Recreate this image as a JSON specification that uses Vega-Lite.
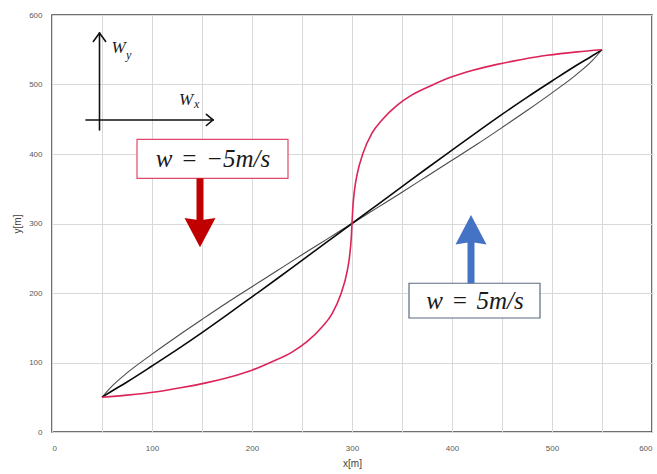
{
  "$schema": "https://vega.github.io/schema/vega-lite/v6.json",
  "width": 600,
  "height": 417,
  "autosize": {"type": "none"},
  "padding": {"left": 52, "top": 15, "right": 5, "bottom": 42},
  "background": "white",
  "config": {
    "view": {"stroke": "#404040", "strokeWidth": 1.5},
    "axis": {
      "grid": true,
      "gridColor": "#d9d9d9",
      "gridWidth": 1,
      "ticks": false,
      "domain": false,
      "labelFont": "Liberation Sans",
      "labelFontSize": 8,
      "labelColor": "#595959",
      "titleFont": "Liberation Sans",
      "titleFontWeight": "normal",
      "titleFontSize": 10,
      "titleColor": "#404040"
    }
  },
  "datasets": {
    "red": [
      {"x": 50, "y": 50}, {"x": 75, "y": 53}, {"x": 105, "y": 58}, {"x": 130, "y": 64},
      {"x": 155, "y": 71}, {"x": 180, "y": 80}, {"x": 200, "y": 89}, {"x": 220, "y": 101},
      {"x": 240, "y": 115}, {"x": 255, "y": 130}, {"x": 270, "y": 151}, {"x": 280, "y": 170},
      {"x": 289, "y": 199}, {"x": 295, "y": 230}, {"x": 297.5, "y": 252}, {"x": 299.3, "y": 280},
      {"x": 300, "y": 300}, {"x": 300.7, "y": 320}, {"x": 302.5, "y": 348}, {"x": 305, "y": 370},
      {"x": 311, "y": 401}, {"x": 320, "y": 430}, {"x": 330, "y": 449}, {"x": 345, "y": 470},
      {"x": 360, "y": 485}, {"x": 380, "y": 499}, {"x": 400, "y": 511}, {"x": 420, "y": 520},
      {"x": 445, "y": 529}, {"x": 470, "y": 536}, {"x": 495, "y": 542}, {"x": 525, "y": 547},
      {"x": 550, "y": 550}
    ],
    "thin": [
      {"x": 50, "y": 50}, {"x": 60, "y": 66}, {"x": 75, "y": 85}, {"x": 100, "y": 112},
      {"x": 125, "y": 137.5}, {"x": 150, "y": 162}, {"x": 175, "y": 186}, {"x": 200, "y": 209},
      {"x": 225, "y": 232}, {"x": 250, "y": 255}, {"x": 275, "y": 277.5}, {"x": 300, "y": 300},
      {"x": 325, "y": 322.5}, {"x": 350, "y": 345}, {"x": 375, "y": 368}, {"x": 400, "y": 391},
      {"x": 425, "y": 414}, {"x": 450, "y": 438}, {"x": 475, "y": 462.5}, {"x": 500, "y": 488},
      {"x": 525, "y": 515}, {"x": 540, "y": 534}, {"x": 550, "y": 550}
    ],
    "thick": [
      {"x": 50, "y": 50}, {"x": 60, "y": 59}, {"x": 75, "y": 72}, {"x": 100, "y": 95},
      {"x": 125, "y": 118.5}, {"x": 150, "y": 143}, {"x": 175, "y": 168.5}, {"x": 200, "y": 194.5},
      {"x": 225, "y": 220.5}, {"x": 250, "y": 247}, {"x": 275, "y": 273.5}, {"x": 300, "y": 300},
      {"x": 325, "y": 326.5}, {"x": 350, "y": 353}, {"x": 375, "y": 379.5}, {"x": 400, "y": 405.5},
      {"x": 425, "y": 431.5}, {"x": 450, "y": 457}, {"x": 475, "y": 481.5}, {"x": 500, "y": 505},
      {"x": 525, "y": 528}, {"x": 540, "y": 541}, {"x": 550, "y": 550}
    ]
  },
  "layer": [
    {
      "data": {"name": "thin"},
      "mark": {"type": "line", "interpolate": "monotone", "color": "#4a4a4a", "strokeWidth": 1.1},
      "encoding": {
        "x": {"field": "x", "type": "quantitative",
          "scale": {"domain": [0, 600], "nice": false, "zero": false},
          "axis": {"values": [0,50,100,150,200,250,300,350,400,450,500,550,600],
                   "labelExpr": "datum.value % 100 == 0 ? datum.label : ''",
                   "title": "x[m]", "labelPadding": 12, "titlePadding": 6}},
        "y": {"field": "y", "type": "quantitative",
          "scale": {"domain": [0, 600], "nice": false, "zero": false},
          "axis": {"values": [0,50,100,150,200,250,300,350,400,450,500,550,600],
                   "labelExpr": "datum.value % 100 == 0 ? datum.label : ''",
                   "title": "y[m]", "labelPadding": 10, "titlePadding": 6}}
      }
    },
    {
      "data": {"name": "thick"},
      "mark": {"type": "line", "interpolate": "monotone", "color": "#0a0a0a", "strokeWidth": 1.6},
      "encoding": {
        "x": {"field": "x", "type": "quantitative"},
        "y": {"field": "y", "type": "quantitative"}
      }
    },
    {
      "data": {"name": "red"},
      "mark": {"type": "line", "interpolate": "monotone", "color": "#dc2458", "strokeWidth": 1.6},
      "encoding": {
        "x": {"field": "x", "type": "quantitative"},
        "y": {"field": "y", "type": "quantitative"}
      }
    },
    {
      "data": {"values": [
        {"label": "minus", "x": 85, "x2": 236, "y": 365, "y2": 421}
      ]},
      "mark": {"type": "rect", "fill": "white", "stroke": "#e04a6a", "strokeWidth": 1.2},
      "encoding": {
        "x": {"field": "x", "type": "quantitative"},
        "x2": {"field": "x2"},
        "y": {"field": "y", "type": "quantitative"},
        "y2": {"field": "y2"}
      }
    },
    {
      "data": {"values": [
        {"label": "plus", "x": 357, "x2": 488, "y": 164, "y2": 214}
      ]},
      "mark": {"type": "rect", "fill": "white", "stroke": "#5b6b80", "strokeWidth": 1.2},
      "encoding": {
        "x": {"field": "x", "type": "quantitative"},
        "x2": {"field": "x2"},
        "y": {"field": "y", "type": "quantitative"},
        "y2": {"field": "y2"}
      }
    },
    {
      "data": {"values": [
        {"label": "minus", "x": 148, "y": 365, "y2": 290}
      ]},
      "mark": {"type": "rule", "strokeWidth": 7, "color": "#c00000"},
      "encoding": {
        "x": {"field": "x", "type": "quantitative"},
        "y": {"field": "y", "type": "quantitative"},
        "y2": {"field": "y2"}
      }
    },
    {
      "data": {"values": [
        {"label": "plus", "x": 419, "y": 214, "y2": 288}
      ]},
      "mark": {"type": "rule", "strokeWidth": 7, "color": "#4472c4"},
      "encoding": {
        "x": {"field": "x", "type": "quantitative"},
        "y": {"field": "y", "type": "quantitative"},
        "y2": {"field": "y2"}
      }
    },
    {
      "data": {"values": [
        {"label": "minus", "x": 148, "y": 288}
      ]},
      "mark": {"type": "point", "filled": true, "opacity": 1, "size": 961, "color": "#c00000",
               "shape": "M-1,-0.9L0,-0.75L1,-0.9L0,1Z"},
      "encoding": {
        "x": {"field": "x", "type": "quantitative"},
        "y": {"field": "y", "type": "quantitative"}
      }
    },
    {
      "data": {"values": [
        {"label": "plus", "x": 419, "y": 290}
      ]},
      "mark": {"type": "point", "filled": true, "opacity": 1, "size": 961, "color": "#4472c4",
               "shape": "M-1,0.9L0,0.75L1,0.9L0,-1Z"},
      "encoding": {
        "x": {"field": "x", "type": "quantitative"},
        "y": {"field": "y", "type": "quantitative"}
      }
    },
    {
      "data": {"values": [
        {"x": 47.5, "y": 434.5, "x2": 47.5, "y2": 574},
        {"x": 47.5, "y": 574, "x2": 41.3, "y2": 562},
        {"x": 47.5, "y": 574, "x2": 53.7, "y2": 562},
        {"x": 34, "y": 449, "x2": 161, "y2": 449},
        {"x": 161, "y": 449, "x2": 154.4, "y2": 457},
        {"x": 161, "y": 449, "x2": 154.4, "y2": 441}
      ]},
      "mark": {"type": "rule", "strokeWidth": 1.6, "color": "#111111", "strokeCap": "round"},
      "encoding": {
        "x": {"field": "x", "type": "quantitative"},
        "y": {"field": "y", "type": "quantitative"},
        "x2": {"field": "x2"},
        "y2": {"field": "y2"}
      }
    },
    {
      "data": {"values": [
        {"t": "w\u2004=\u2004−5m/s", "x": 161, "y": 382},
        {"t": "w\u2004=\u20045m/s", "x": 423, "y": 177}
      ]},
      "mark": {"type": "text", "font": "Liberation Serif", "fontStyle": "italic", "fontSize": 25,
               "align": "center", "baseline": "alphabetic", "color": "#1a1a1a"},
      "encoding": {
        "x": {"field": "x", "type": "quantitative"},
        "y": {"field": "y", "type": "quantitative"},
        "text": {"field": "t"}
      }
    },
    {
      "data": {"values": [
        {"t": "W", "x": 59.5, "y": 545},
        {"t": "W", "x": 127, "y": 470.5}
      ]},
      "mark": {"type": "text", "font": "Liberation Serif", "fontStyle": "italic", "fontSize": 17,
               "align": "left", "baseline": "alphabetic", "color": "#1a1a1a"},
      "encoding": {
        "x": {"field": "x", "type": "quantitative"},
        "y": {"field": "y", "type": "quantitative"},
        "text": {"field": "t"}
      }
    },
    {
      "data": {"values": [
        {"t": "y", "x": 74, "y": 537},
        {"t": "x", "x": 142, "y": 466}
      ]},
      "mark": {"type": "text", "font": "Liberation Serif", "fontStyle": "italic", "fontSize": 12,
               "align": "left", "baseline": "alphabetic", "color": "#1a1a1a"},
      "encoding": {
        "x": {"field": "x", "type": "quantitative"},
        "y": {"field": "y", "type": "quantitative"},
        "text": {"field": "t"}
      }
    }
  ]
}
